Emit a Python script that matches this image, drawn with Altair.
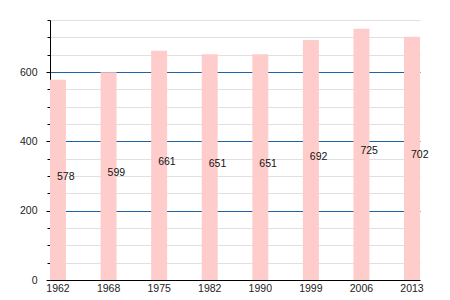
import altair as alt
import pandas as pd

years = ["1962", "1968", "1975", "1982", "1990", "1999", "2006", "2013"]
population = [578, 599, 661, 651, 651, 692, 725, 702]
y_ticks = list(range(0, 751, 50))

df = pd.DataFrame({"year": years, "pop": population})

yscale = alt.Scale(domain=[0, 750], nice=False)
xscale = alt.Scale(paddingInner=0.684, paddingOuter=0)

xaxis = alt.Axis(title=None, labelAngle=0, ticks=False, domainColor="#000",
                 labelColor="#222", labelFont="Liberation Sans", labelFontSize=10.5,
                 labelPadding=3, grid=False)
yaxis = alt.Axis(title=None, values=y_ticks,
                 labelExpr="datum.value % 200 === 0 ? datum.label : ''",
                 grid=True,
                 gridColor=alt.condition("datum.value % 200 === 0 && datum.value > 0",
                                         alt.value("#1d62a4"), alt.value("#e0e0e0")),
                 tickSize=alt.condition("datum.value % 200 === 0",
                                        alt.value(4), alt.value(3)),
                 tickColor="#000", domainColor="#000",
                 labelColor="#222", labelFont="Liberation Sans", labelFontSize=10.5,
                 labelPadding=9)

bars = alt.Chart(df).mark_bar(color="#ffcccc").encode(
    x=alt.X("year:N", sort=years, scale=xscale, axis=xaxis),
    y=alt.Y("pop:Q", scale=yscale, axis=yaxis),
)

labels = alt.Chart(df).transform_calculate(half="datum.pop / 2").mark_text(
    align="left", baseline="alphabetic", dx=-1, font="Liberation Sans", fontSize=10.5, color="#111"
).encode(
    x=alt.X("year:N", sort=years, scale=xscale, axis=xaxis),
    y=alt.Y("half:Q", scale=yscale, axis=yaxis),
    text=alt.Text("pop:Q"),
)

chart = alt.layer(bars, labels).properties(
    width=370, height=260,
    autosize=alt.AutoSizeParams(type="none"),
    padding={"left": 50, "top": 20, "right": 30, "bottom": 20},
).configure_view(stroke=None)

chart.save("out.html", embed_options={"renderer": "svg", "actions": False})
